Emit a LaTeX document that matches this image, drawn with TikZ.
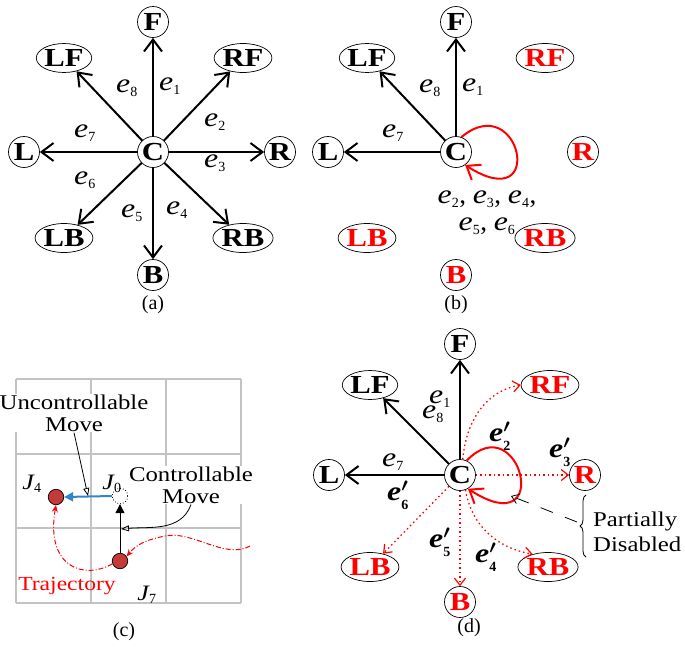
\RequirePackage{fix-cm}
\documentclass[tikz,border=0pt]{standalone}
\usepackage{amsmath}
\usepackage{fontspec}
\setmainfont{Liberation Serif}
\newfontfamily\wideserif[FakeStretch=1.18]{Liberation Serif}
\usetikzlibrary{arrows.meta,shapes.geometric,decorations.pathreplacing}

\definecolor{jred}{RGB}{196,58,58}
\definecolor{mblue}{RGB}{52,132,204}
\definecolor{gridgray}{RGB}{195,195,195}

\newcommand{\edg}[1]{{\wideserif\itshape e}$_{\text{\fontsize{14}{14}\selectfont #1}}$}
\newcommand{\edp}[1]{{\wideserif\bfseries\itshape e}{\boldmath$'_{\text{\fontsize{14}{14}\selectfont\bfseries #1}}$}}
\newcommand{\jl}[1]{{\wideserif\itshape J}$_{\text{\fontsize{14}{14}\selectfont #1}}$}

\tikzset{
  cn/.style={circle,draw,line width=0.7pt,minimum size=31pt,inner sep=0pt,font=\fontsize{26}{26}\wideserif\bfseries},
  en/.style={ellipse,draw,line width=0.7pt,minimum width=49pt,minimum height=29pt,inner sep=0pt,font=\fontsize{26}{26}\wideserif\bfseries},
  dis/.style={text=red},
  arr/.style={line width=2pt,-{Straight Barb[length=12pt,width=18pt]}},
  reddot/.style={red,line width=1.3pt,dash pattern=on 1.5pt off 3pt,-{Straight Barb[length=7pt,width=11pt,line width=1.2pt]}},
  lab/.style={font=\fontsize{27}{27}\selectfont,inner sep=0pt},
  captext/.style={font=\fontsize{20}{20}\selectfont,inner sep=0pt},
  ctext/.style={font=\fontsize{21}{22}\wideserif,align=center,inner sep=1pt,fill=white},
  gridline/.style={gridgray,line width=1.2pt},
  jdot/.style={circle,draw,line width=0.7pt,minimum size=15.5pt,inner sep=0pt,fill=jred},
  traj/.style={red,line width=1pt,dash pattern=on 5pt off 2pt on 1pt off 2pt,-{Stealth[length=7pt,width=6pt]}},
  note/.style={line width=0.8pt,-{Triangle[open,length=8pt,width=6pt]}},
}

\begin{document}
\begin{tikzpicture}[x=1pt,y=1pt]
\useasboundingbox (0,0) rectangle (685,-646);

% ---------------- (a)
\node[cn] (aC) at (153,-152) {C};
\node[cn] (aF) at (153,-22) {F};
\node[en] (aLF) at (64,-58) {LF};
\node[en] (aRF) at (243,-58) {RF};
\node[cn] (aL) at (24,-152) {L};
\node[cn] (aR) at (280,-152) {R};
\node[en] (aLB) at (64,-238) {LB};
\node[en] (aRB) at (243,-238) {RB};
\node[cn] (aB) at (153,-275) {B};
\foreach \t in {F,LF,RF,L,R,LB,RB,B} \draw[arr] (aC) -- (a\t);
\node[lab] (ae8) at (127,-88) {\edg{8}};
\node[lab] (ae1) at (170,-86) {\edg{1}};
\node[lab] (ae2) at (215,-122) {\edg{2}};
\node[lab] (ae7) at (85,-133) {\edg{7}};
\node[lab] (ae3) at (215,-163) {\edg{3}};
\node[lab] (ae6) at (85,-180) {\edg{6}};
\node[lab] (ae5) at (132,-213) {\edg{5}};
\node[lab] (ae4) at (177,-210) {\edg{4}};
\node[captext] (capa) at (153,-305) {(a)};

% ---------------- (b)
\node[cn] (bC) at (456,-152) {C};
\node[cn] (bF) at (456,-22) {F};
\node[en] (bLF) at (367,-58) {LF};
\node[en,dis] (bRF) at (545,-58) {RF};
\node[cn] (bL) at (328,-152) {L};
\node[cn,dis] (bR) at (583,-152) {R};
\node[en,dis] (bLB) at (367,-238) {LB};
\node[en,dis] (bRB) at (545,-238) {RB};
\node[cn,dis] (bB) at (456,-275) {B};
\foreach \t in {F,LF,L} \draw[arr] (bC) -- (b\t);
\draw[arr,red] (bC.70) .. controls (520,-88) and (548,-218) .. (bC.-55);
\node[lab] (be8) at (430,-88) {\edg{8}};
\node[lab] (be1) at (473,-87) {\edg{1}};
\node[lab] (be7) at (393,-133) {\edg{7}};
\node[lab,align=center] (bes) at (487,-213) {\edg{2}, \edg{3}, \edg{4},\\[0pt]\edg{5}, \edg{6}};
\node[captext] (capb) at (456,-305) {(b)};

% ---------------- (c)
\foreach \x in {16,91,166,241} \draw[gridline] (\x,-379) -- (\x,-603);
\foreach \y in {379,454,528,603} \draw[gridline] (16,-\y) -- (241,-\y);
\node[jdot] (J4) at (56,-497) {};
\node[circle,draw,dotted,fill=white,line width=0.8pt,minimum size=15.5pt,inner sep=0pt] (J0) at (120,-496) {};
\node[jdot] (J7) at (120,-561) {};
\draw[mblue,line width=2pt,-{Triangle[length=9pt,width=9pt]}] (J0.west) -- (J4.east);
\draw[line width=1pt,-{Triangle[length=9pt,width=9pt]}] (J7.north) -- (J0.south);
\node[ctext] (unc) at (74,-413) {Uncontrollable\\Move};
\node[ctext] (con) at (191,-485) {Controllable\\Move};
\coordinate (ut) at (88,-496);
\coordinate (ct) at (121,-529);
\draw[note] (unc.south) -- (ut);
\draw[note] (con.south) to[out=-110,in=5] (ct);
\node[lab,font=\fontsize{22}{22}\selectfont] (lJ4) at (32,-484) {\jl{4}};
\node[lab,font=\fontsize{22}{22}\selectfont] (lJ0) at (112,-484) {\jl{0}};
\node[lab,font=\fontsize{22}{22}\selectfont] (lJ7) at (147,-595) {\jl{7}};
\node[ctext,text=red,fill=none,font=\fontsize{20}{20}\wideserif] (trj) at (67,-586) {Trajectory};
\coordinate (tstart) at (250,-546);
\draw[traj] (tstart) .. controls (225,-560) and (192,-530) .. (165,-536) .. controls (145,-540) and (136,-545) .. (J7.35);
\draw[traj] (J7.200) .. controls (85,-580) and (45,-568) .. (J4.south);
\node[captext] (capc) at (124,-632) {(c)};

% ---------------- (d)
\node[cn] (dC) at (460,-475) {C};
\node[cn] (dF) at (460,-344) {F};
\node[en] (dLF) at (370,-385) {LF};
\node[en,dis] (dRF) at (550,-385) {RF};
\node[cn] (dL) at (329,-475) {L};
\node[cn,dis] (dR) at (585,-475) {R};
\node[en,dis] (dLB) at (370,-567) {LB};
\node[en,dis] (dRB) at (548,-567) {RB};
\node[cn,dis] (dB) at (460,-602) {B};
\foreach \t in {F,LF,L} \draw[arr] (dC) -- (d\t);
\draw[reddot] (dC) -- (dR);
\draw[reddot] (dC) -- (dB);
\draw[reddot] (dC) -- (dLB);
\draw[reddot] (dC.80) to[out=85,in=190] (dRF.west);
\draw[reddot] (dC.-70) to[out=-80,in=170] (dRB.140);
\draw[arr,red] (dC.65) .. controls (520,-405) and (555,-545) .. (dC.-60);
\node[lab] (de1) at (440,-399) {\edg{1}};
\node[lab] (de8) at (433,-414) {\edg{8}};
\node[lab] (de7) at (393,-462) {\edg{7}};
\node[lab] (de2) at (500,-436) {\edp{2}};
\node[lab] (de3) at (560,-452) {\edp{3}};
\node[lab] (de6) at (398,-495) {\edp{6}};
\node[lab] (de5) at (440,-542) {\edp{5}};
\node[lab] (de4) at (486,-557) {\edp{4}};
\coordinate (ptip) at (511,-496);
\coordinate (pst) at (577,-522);
\draw[line width=0.8pt,dash pattern=on 13pt off 13pt,-{Straight Barb[length=7pt,width=10pt,line width=0.8pt]}] (pst) -- (ptip);
\draw[line width=0.8pt,decorate,decoration={brace,amplitude=6pt}] (586,-557) -- (586,-495);
\node[ctext,fill=none,align=left,anchor=west,font=\fontsize{21}{25}\wideserif] (pd) at (592,-532) {Partially\\Disabled};
\node[captext] (capd) at (469,-628) {(d)};
\end{tikzpicture}
\end{document}
